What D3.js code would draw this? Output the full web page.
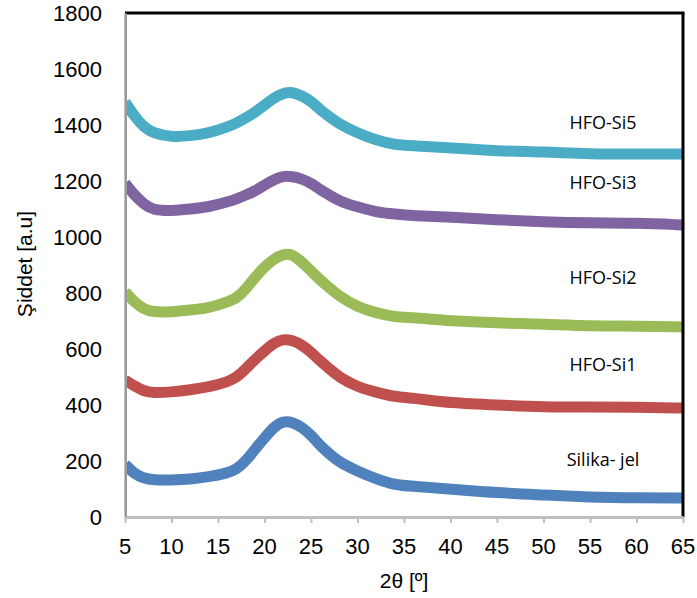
<!DOCTYPE html>
<meta charset="utf-8">
<body style="margin:0;background:#fff">
<script src="https://d3js.org/d3.v7.min.js"></script>
<style>
  body { font-family: "Liberation Sans", Arial, sans-serif; }
  .tick-label { font-family: "Liberation Sans", Arial, sans-serif; font-size: 22px; fill: #000; }
  .axis-title { font-family: "Liberation Sans", Arial, sans-serif; font-size: 21px; fill: #000; }
  .series-label { font-family: "Open Sans", sans-serif; font-size: 18px; fill: #000; }
</style>
<script>
// 2theta angles where the curves were read
var angles = [5, 6, 7, 8, 10, 12, 14, 16, 17, 18, 19, 20, 21, 22, 23, 24, 25, 26, 27, 28, 30, 32, 34, 36, 40, 45, 50, 55, 60, 65];

// intensities [a.u]
var silikaJel = [188, 154, 139, 132, 132, 135, 143, 157, 170, 200, 243, 282, 321, 343, 339, 321, 293, 254, 225, 196, 164, 136, 114, 110, 100, 86, 79, 71, 68, 68];
var hfoSi1 = [489, 468, 450, 443, 446, 454, 464, 482, 498, 529, 564, 593, 621, 636, 631, 615, 589, 557, 529, 500, 464, 446, 429, 425, 407, 400, 393, 393, 393, 389];
var hfoSi2 = [804, 768, 743, 732, 732, 739, 746, 768, 781, 814, 857, 893, 921, 939, 939, 911, 879, 846, 818, 789, 750, 729, 714, 712, 700, 693, 689, 682, 682, 679];
var hfoSi3 = [1192, 1150, 1118, 1096, 1093, 1100, 1107, 1125, 1136, 1150, 1164, 1186, 1204, 1218, 1216, 1208, 1193, 1168, 1150, 1129, 1107, 1089, 1082, 1076, 1071, 1061, 1054, 1050, 1050, 1043];
var hfoSi5 = [1482, 1432, 1393, 1371, 1357, 1361, 1371, 1393, 1407, 1425, 1446, 1471, 1496, 1514, 1518, 1504, 1486, 1454, 1429, 1404, 1371, 1346, 1329, 1326, 1318, 1307, 1304, 1296, 1296, 1296];

var seriesNames = ["Silika- jel", "HFO-Si1", "HFO-Si2", "HFO-Si3", "HFO-Si5"];
var seriesColors = ["#4F81BD", "#C0504D", "#9BBB59", "#8064A2", "#4BACC6"];
var labelValues = [205, 545, 855, 1195, 1410];

var xTicks = d3.range(5, 66, 5);
var yTicks = d3.range(0, 1801, 200);

var width = 697, height = 598;
var plot = {left: 125, right: 683, top: 13, bottom: 517};

var x = d3.scaleLinear().domain([5, 65]).range([plot.left, plot.right]);
var y = d3.scaleLinear().domain([0, 1800]).range([plot.bottom, plot.top]);

var svg = d3.select("body").append("svg")
    .attr("width", width)
    .attr("height", height);

svg.append("clipPath")
    .attr("id", "plotclip")
  .append("rect")
    .attr("x", plot.left)
    .attr("y", plot.top)
    .attr("width", plot.right - plot.left)
    .attr("height", plot.bottom - plot.top);

// curves
var allSeries = [silikaJel, hfoSi1, hfoSi2, hfoSi3, hfoSi5];
var line = d3.line()
    .x(function(d, i) { return x(angles[i]); })
    .y(function(d) { return y(d); })
    .curve(d3.curveBasis);

svg.append("g")
    .attr("clip-path", "url(#plotclip)")
  .selectAll("path")
  .data(allSeries)
  .enter().append("path")
    .attr("d", line)
    .attr("fill", "none")
    .attr("stroke", function(d, i) { return seriesColors[i]; })
    .attr("stroke-width", 11)
    .attr("stroke-linejoin", "round");

// series labels
svg.selectAll(".series-label")
  .data(seriesNames)
  .enter().append("text")
    .attr("class", "series-label")
    .attr("x", 603)
    .attr("y", function(d, i) { return y(labelValues[i]); })
    .attr("dy", "0.35em")
    .attr("text-anchor", "middle")
    .text(function(d) { return d; });

// frame: black top/right, gray axes left/bottom
svg.append("line")
    .attr("x1", plot.left).attr("x2", plot.right + 1.5)
    .attr("y1", plot.top).attr("y2", plot.top)
    .attr("stroke", "#000").attr("stroke-width", 3);
svg.append("line")
    .attr("x1", plot.right).attr("x2", plot.right)
    .attr("y1", plot.top).attr("y2", plot.bottom)
    .attr("stroke", "#000").attr("stroke-width", 3);

var xAxis = d3.axisBottom(x)
    .tickValues(xTicks)
    .tickSize(6)
    .tickSizeOuter(0)
    .tickFormat(function(d) { return ""; });

var gx = svg.append("g")
    .attr("transform", "translate(0," + plot.bottom + ")")
    .call(xAxis);
gx.select(".domain").attr("stroke", "#bfbfbf").attr("stroke-width", 3);
gx.selectAll(".tick line").attr("stroke", "#bfbfbf").attr("stroke-width", 2);

var yAxis = d3.axisLeft(y)
    .tickValues(yTicks)
    .tickSize(0)
    .tickSizeOuter(0)
    .tickFormat(function(d) { return ""; });

var gy = svg.append("g")
    .attr("transform", "translate(" + plot.left + ",0)")
    .call(yAxis);
gy.select(".domain").attr("stroke", "#bfbfbf").attr("stroke-width", 3);
svg.append("line")
    .attr("x1", plot.left + 1).attr("x2", plot.left + 1)
    .attr("y1", plot.top).attr("y2", plot.bottom)
    .attr("stroke", "#777").attr("stroke-width", 1);

// tick labels
svg.selectAll(".xlab")
  .data(xTicks)
  .enter().append("text")
    .attr("class", "tick-label")
    .attr("x", function(d) { return x(d); })
    .attr("y", 546)
    .attr("dy", "0.35em")
    .attr("text-anchor", "middle")
    .text(function(d) { return d; });

svg.selectAll(".ylab")
  .data(yTicks)
  .enter().append("text")
    .attr("class", "tick-label")
    .attr("x", 102)
    .attr("y", function(d) { return y(d); })
    .attr("dy", "0.35em")
    .attr("text-anchor", "end")
    .text(function(d) { return d; });

// axis titles
svg.append("text")
    .attr("class", "axis-title")
    .attr("x", (plot.left + plot.right) / 2)
    .attr("y", 581)
    .attr("dy", "0.35em")
    .attr("text-anchor", "middle")
    .text("2θ [º]");

svg.append("text")
    .attr("class", "axis-title")
    .attr("transform", "translate(25,264) rotate(-90)")
    .attr("dy", "0.35em")
    .attr("text-anchor", "middle")
    .text("Şiddet [a.u]");
</script>
